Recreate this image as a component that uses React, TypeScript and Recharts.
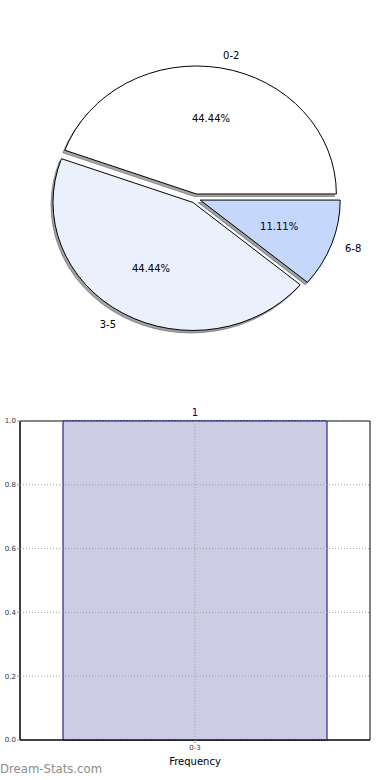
import React from "react";
import {
  PieChart,
  Pie,
  Cell,
  BarChart,
  Bar,
  XAxis,
  YAxis,
  LabelList,
  ReferenceArea,
  ReferenceLine,
} from "recharts";

const pieLabels = ["0-2", "3-5", "6-8"];
const pieCounts = [4, 4, 1];
const pieColors = ["#ffffff", "#eaf1fd", "#c5d8fc"];

const barCategories = ["0-3"];
const barValues = [1];
const yTicks = [0, 0.2, 0.4, 0.6, 0.8, 1.0];

const FONT = '"DejaVu Sans", sans-serif';
const RX = 140;
const RY = 128;
const EXPLODE = 5;
const RAD = Math.PI / 180;

const pieData = pieLabels.map((name, i) => ({ name, value: pieCounts[i] }));
const barData = barCategories.map((name, i) => ({ name, value: barValues[i] }));

// matplotlib-style pie: slightly squashed (axes not equal), exploded wedges
function wedgePath(cx: number, cy: number, start: number, end: number) {
  const x1 = cx + RX * Math.cos(start * RAD);
  const y1 = cy - RY * Math.sin(start * RAD);
  const x2 = cx + RX * Math.cos(end * RAD);
  const y2 = cy - RY * Math.sin(end * RAD);
  const large = Math.abs(end - start) > 180 ? 1 : 0;
  return `M${cx},${cy} L${x1},${y1} A${RX},${RY} 0 ${large} 0 ${x2},${y2} Z`;
}

function explodedCenter(cx: number, cy: number, start: number, end: number) {
  const mid = ((start + end) / 2) * RAD;
  return {
    x: cx + EXPLODE * Math.cos(mid),
    y: cy - EXPLODE * (RY / RX) * Math.sin(mid),
  };
}

function darken(hex: string, k: number) {
  const n = parseInt(hex.slice(1), 16);
  const r = Math.round(((n >> 16) & 255) * k);
  const g = Math.round(((n >> 8) & 255) * k);
  const b = Math.round((n & 255) * k);
  return `rgb(${r},${g},${b})`;
}

function WedgeShape(props: any) {
  const { cx, cy, startAngle, endAngle, fill } = props;
  const c = explodedCenter(cx, cy, startAngle, endAngle);
  return (
    <path
      d={wedgePath(c.x, c.y, startAngle, endAngle)}
      fill={fill}
      stroke="#000"
      strokeWidth={1}
    />
  );
}

function ShadowShape(props: any) {
  const { cx, cy, startAngle, endAngle, index } = props;
  const c = explodedCenter(cx, cy, startAngle, endAngle);
  const color = darken(pieColors[index % pieColors.length], 0.3);
  return (
    <path
      d={wedgePath(c.x - 2, c.y + 2.5, startAngle, endAngle)}
      fill={color}
      fillOpacity={0.5}
      stroke={color}
      strokeOpacity={0.5}
      strokeWidth={1}
    />
  );
}

function renderPieLabel(props: any) {
  const { cx, cy, midAngle, percent, index } = props;
  const m = midAngle * RAD;
  const ox = EXPLODE * Math.cos(m);
  const oy = -EXPLODE * (RY / RX) * Math.sin(m);
  const lx = cx + ox + 1.1 * RX * Math.cos(m);
  const ly = cy + oy - 1.1 * RY * Math.sin(m);
  const px = cx + ox + 0.6 * RX * Math.cos(m);
  const py = cy + oy - 0.6 * RY * Math.sin(m);
  return (
    <g>
      <text
        x={lx}
        y={ly}
        textAnchor={Math.cos(m) > 0 ? "start" : "end"}
        dominantBaseline="central"
        fontSize={10}
        fontFamily={FONT}
        fill="#000"
      >
        {pieLabels[index]}
      </text>
      <text
        x={px}
        y={py}
        textAnchor="middle"
        dominantBaseline="central"
        fontSize={10}
        fontFamily={FONT}
        fill="#000"
      >
        {(percent * 100).toFixed(2)}%
      </text>
    </g>
  );
}

export default function App() {
  return (
    <div
      style={{
        position: "absolute",
        top: 0,
        left: 0,
        width: 390,
        height: 780,
        background: "#fff",
        fontFamily: FONT,
      }}
    >
      <div style={{ position: "absolute", top: 0, left: 0 }}>
        <PieChart width={390} height={390} margin={{ top: 0, right: 0, bottom: 0, left: 0 }}>
          <Pie
            data={pieData}
            dataKey="value"
            cx={195.5}
            cy={198.5}
            outerRadius={RX}
            startAngle={0}
            endAngle={360}
            stroke="none"
            shape={ShadowShape}
            isAnimationActive={false}
          >
            {pieData.map((d, i) => (
              <Cell key={d.name} fill={pieColors[i]} />
            ))}
          </Pie>
          <Pie
            data={pieData}
            dataKey="value"
            cx={195.5}
            cy={198.5}
            outerRadius={RX}
            startAngle={0}
            endAngle={360}
            shape={WedgeShape}
            label={renderPieLabel}
            labelLine={false}
            isAnimationActive={false}
          >
            {pieData.map((d, i) => (
              <Cell key={d.name} fill={pieColors[i]} />
            ))}
          </Pie>
        </PieChart>
      </div>

      <div style={{ position: "absolute", top: 390, left: 0 }}>
        <BarChart
          width={390}
          height={390}
          data={barData}
          margin={{ top: 31, right: 20, bottom: 10, left: 0 }}
          barCategoryGap={43}
        >
          <XAxis
            dataKey="name"
            height={30}
            tickSize={3}
            tickMargin={2}
            tickLine={{ stroke: "#999" }}
            axisLine={{ stroke: "#000" }}
            tick={{ fontSize: 7, fill: "#333", fontFamily: FONT }}
            label={{
              value: "Frequency",
              position: "insideBottom",
              offset: 5,
              style: { fontSize: 10, fill: "#000", fontFamily: FONT },
            }}
          />
          <YAxis
            domain={[0, 1]}
            ticks={yTicks}
            interval={0}
            width={20}
            tickSize={3}
            tickMargin={1}
            tickLine={{ stroke: "#999" }}
            axisLine={{ stroke: "#000" }}
            tickFormatter={(v: number) => v.toFixed(1)}
            tick={{ fontSize: 7, fill: "#333", fontFamily: FONT }}
          />
          <YAxis
            yAxisId="right"
            orientation="right"
            domain={[0, 1]}
            ticks={yTicks}
            width={0}
            mirror
            tickSize={3}
            tick={false}
            tickLine={{ stroke: "#999" }}
            axisLine={false}
          />
          <Bar
            dataKey="value"
            fill="#ccccE5"
            stroke="#000080"
            strokeWidth={1}
            isAnimationActive={false}
          >
            <LabelList
              dataKey="value"
              position="top"
              offset={5}
              fill="#000080"
              fontSize={10}
              fontFamily={FONT}
            />
          </Bar>
          {/* dotted grid drawn above the bar, as in the source */}
          {yTicks.map((t) => (
            <ReferenceLine
              key={t}
              y={t}
              stroke="#a0a0a0"
              strokeDasharray="1 2"
            />
          ))}
          {barCategories.map((c) => (
            <ReferenceLine
              key={c}
              x={c}
              stroke="#a0a0a0"
              strokeDasharray="1 2"
            />
          ))}
          <ReferenceArea
            y1={0}
            y2={1}
            fill="none"
            fillOpacity={0}
            stroke="#000"
            strokeWidth={1}
            ifOverflow="visible"
          />
        </BarChart>
      </div>

      <div
        style={{
          position: "absolute",
          left: 0,
          top: 762,
          fontSize: 11.7,
          lineHeight: "14px",
          color: "#8c8c8c",
          fontFamily: FONT,
          whiteSpace: "nowrap",
        }}
      >
        Dream-Stats.com
      </div>
    </div>
  );
}
